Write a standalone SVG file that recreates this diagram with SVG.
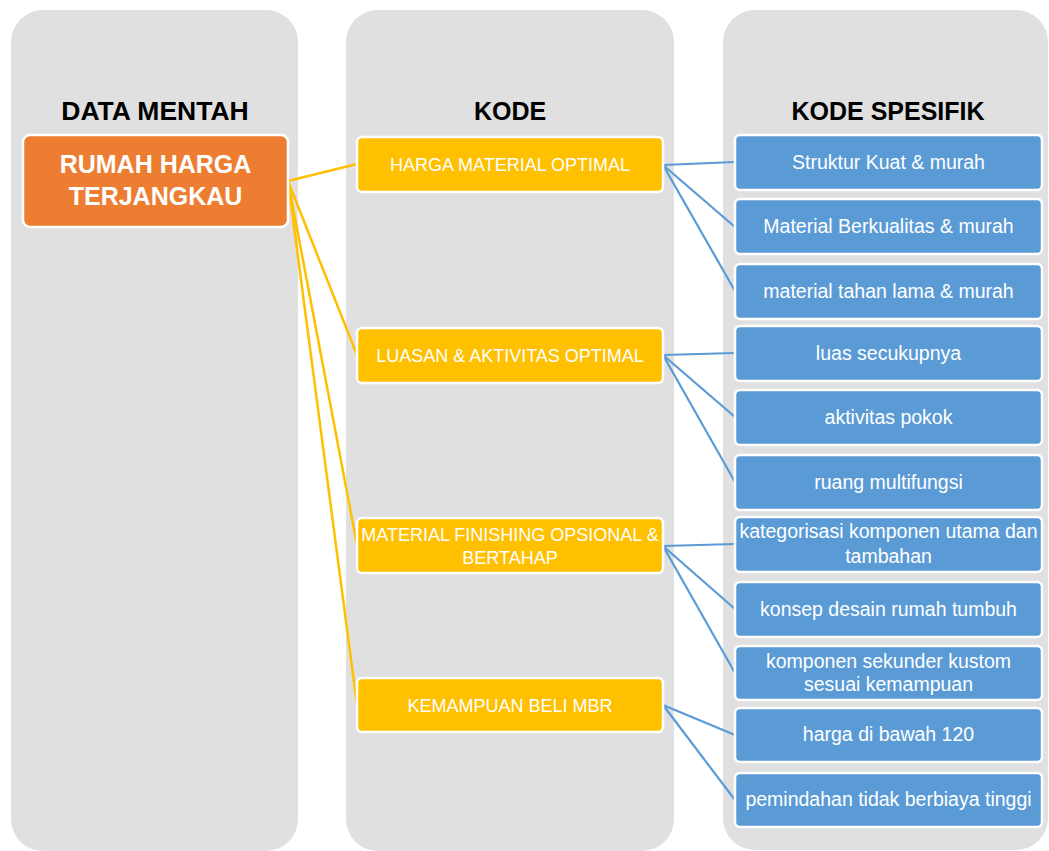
<svg xmlns="http://www.w3.org/2000/svg" width="1049" height="851" viewBox="0 0 1049 851">
  <style>
    .col { fill: #e0e0e0; }
    .head { font-family: "Liberation Sans", Arial, sans-serif; font-weight: bold; font-size: 25px; fill: #000; text-anchor: middle; }
    .root rect { fill: #ed7d31; stroke: #fff; stroke-width: 2.5; }
    .root text { font-family: "Liberation Sans", Arial, sans-serif; font-weight: bold; font-size: 25px; fill: #fff; text-anchor: middle; }
    .code rect { fill: #ffc000; stroke: #fff; stroke-width: 2.5; }
    .code text { font-family: "Liberation Sans", Arial, sans-serif; font-size: 18px; fill: #fff; text-anchor: middle; }
    .spec rect { fill: #5b9bd5; stroke: #fff; stroke-width: 2.5; }
    .spec text { font-family: "Liberation Sans", Arial, sans-serif; font-size: 19.5px; fill: #fff; text-anchor: middle; }
    .ly { stroke: #ffc000; stroke-width: 2.5; fill: none; }
    .lb { stroke: #5b9bd5; stroke-width: 2.2; fill: none; }
  </style>

  <!-- column panels -->
  <g id="columns">
    <rect class="col" x="11" y="10" width="287" height="841" rx="32"/>
    <rect class="col" x="346" y="10" width="328" height="841" rx="32"/>
    <rect class="col" x="723" y="10" width="325" height="840" rx="32"/>
    <text class="head" x="155" y="120" style="font-size:26.5px">DATA MENTAH</text>
    <text class="head" x="510" y="120">KODE</text>
    <text class="head" x="888" y="120">KODE SPESIFIK</text>
  </g>

  <!-- connectors -->
  <g id="connectors">
    <line class="ly" x1="288" y1="181" x2="357" y2="164"/>
    <line class="ly" x1="288" y1="181" x2="357" y2="355"/>
    <line class="ly" x1="288" y1="181" x2="357" y2="545"/>
    <line class="ly" x1="288" y1="181" x2="357" y2="705"/>

    <line class="lb" x1="663" y1="165" x2="735" y2="162"/>
    <line class="lb" x1="663" y1="165" x2="735" y2="227"/>
    <line class="lb" x1="663" y1="165" x2="735" y2="291"/>

    <line class="lb" x1="663" y1="355" x2="735" y2="353"/>
    <line class="lb" x1="663" y1="355" x2="735" y2="417"/>
    <line class="lb" x1="663" y1="355" x2="735" y2="482"/>

    <line class="lb" x1="663" y1="546" x2="735" y2="544"/>
    <line class="lb" x1="663" y1="546" x2="735" y2="609"/>
    <line class="lb" x1="663" y1="546" x2="735" y2="673"/>

    <line class="lb" x1="663" y1="705" x2="735" y2="735"/>
    <line class="lb" x1="663" y1="705" x2="735" y2="800"/>
  </g>

  <!-- raw data -->
  <g id="rumah-harga" class="root">
    <rect x="23" y="135" width="265" height="92" rx="7"/>
    <text x="155.5" y="173">RUMAH HARGA</text>
    <text x="155.5" y="205">TERJANGKAU</text>
  </g>

  <!-- codes -->
  <g id="kode-harga-material" class="code">
    <rect x="357" y="137" width="306" height="55" rx="5"/>
    <text x="510" y="171">HARGA MATERIAL OPTIMAL</text>
  </g>
  <g id="kode-luasan" class="code">
    <rect x="357" y="328" width="306" height="55" rx="5"/>
    <text x="510" y="362">LUASAN &amp; AKTIVITAS OPTIMAL</text>
  </g>
  <g id="kode-finishing" class="code">
    <rect x="357" y="518" width="306" height="55" rx="5"/>
    <text x="510" y="541">MATERIAL FINISHING OPSIONAL &amp;</text>
    <text x="510" y="564">BERTAHAP</text>
  </g>
  <g id="kode-kemampuan" class="code">
    <rect x="357" y="678" width="306" height="54" rx="5"/>
    <text x="510" y="712">KEMAMPUAN BELI MBR</text>
  </g>

  <!-- specific codes -->
  <g id="spec-struktur" class="spec">
    <rect x="735" y="135" width="307" height="55" rx="5"/>
    <text x="888.5" y="169">Struktur Kuat &amp; murah</text>
  </g>
  <g id="spec-material-berkualitas" class="spec">
    <rect x="735" y="199" width="307" height="55" rx="5"/>
    <text x="888.5" y="233">Material Berkualitas &amp; murah</text>
  </g>
  <g id="spec-tahan-lama" class="spec">
    <rect x="735" y="264" width="307" height="55" rx="5"/>
    <text x="888.5" y="298">material tahan lama &amp; murah</text>
  </g>
  <g id="spec-luas" class="spec">
    <rect x="735" y="326" width="307" height="55" rx="5"/>
    <text x="888.5" y="360">luas secukupnya</text>
  </g>
  <g id="spec-aktivitas" class="spec">
    <rect x="735" y="390" width="307" height="55" rx="5"/>
    <text x="888.5" y="424">aktivitas pokok</text>
  </g>
  <g id="spec-multifungsi" class="spec">
    <rect x="735" y="455" width="307" height="55" rx="5"/>
    <text x="888.5" y="489">ruang multifungsi</text>
  </g>
  <g id="spec-kategorisasi" class="spec">
    <rect x="735" y="517" width="307" height="55" rx="5"/>
    <text x="888.5" y="538">kategorisasi komponen utama dan</text>
    <text x="888.5" y="563">tambahan</text>
  </g>
  <g id="spec-rumah-tumbuh" class="spec">
    <rect x="735" y="582" width="307" height="55" rx="5"/>
    <text x="888.5" y="616">konsep desain rumah tumbuh</text>
  </g>
  <g id="spec-sekunder" class="spec">
    <rect x="735" y="646" width="307" height="54" rx="5"/>
    <text x="888.5" y="668">komponen sekunder kustom</text>
    <text x="888.5" y="691">sesuai kemampuan</text>
  </g>
  <g id="spec-harga" class="spec">
    <rect x="735" y="708" width="307" height="54" rx="5"/>
    <text x="888.5" y="741">harga di bawah 120</text>
  </g>
  <g id="spec-pemindahan" class="spec">
    <rect x="735" y="773" width="307" height="54" rx="5"/>
    <text x="888.5" y="806">pemindahan tidak berbiaya tinggi</text>
  </g>
</svg>
